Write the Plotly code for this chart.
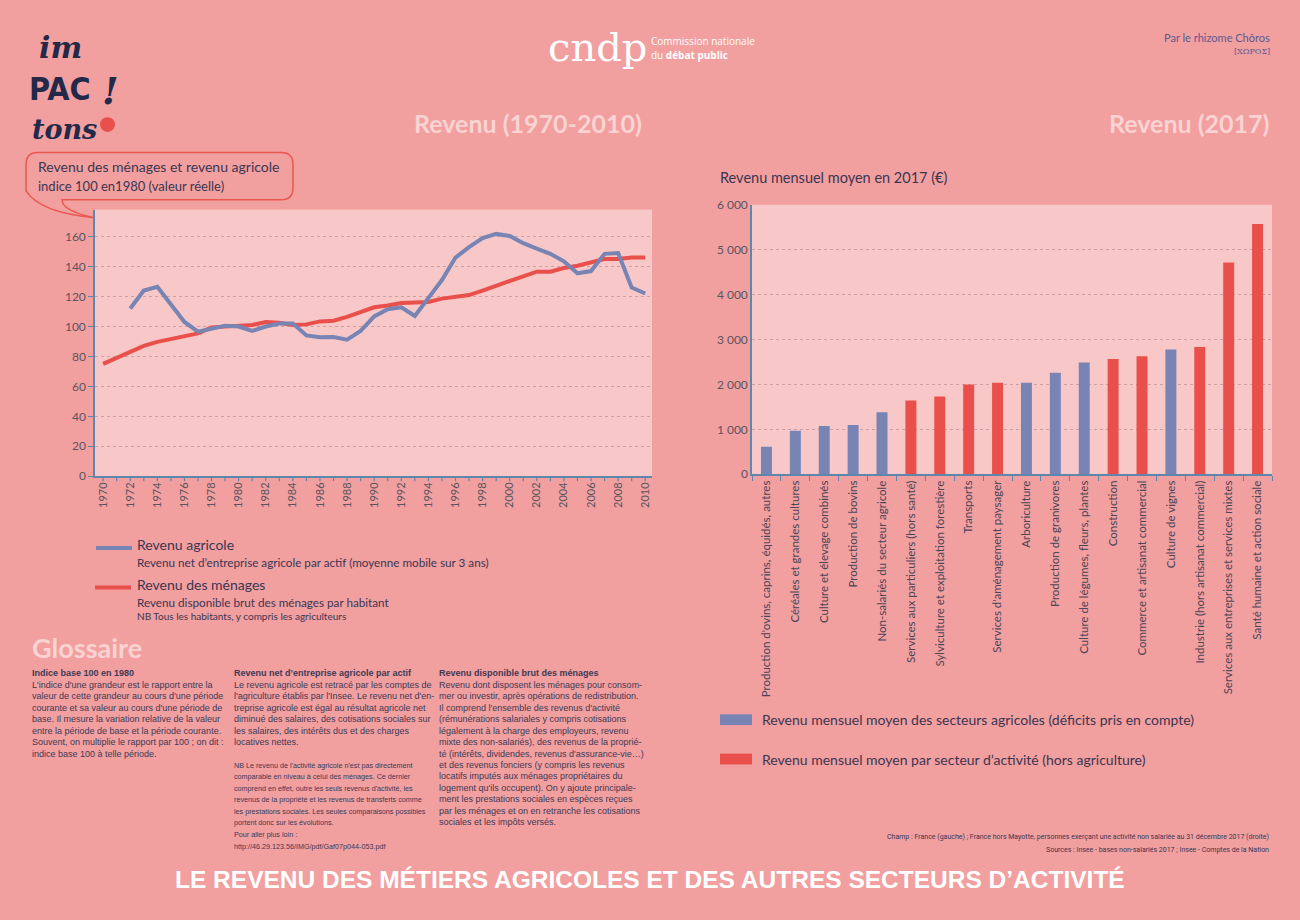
import plotly.graph_objects as go

W, H = 1300, 920

# ---------------- DATA ----------------
years = list(range(1970, 2011))
revenu_agricole = [None, None, 112, 124, 126.5, 115, 103, 96.5, 98.7, 100.5, 100,
                   97, 100, 102, 102, 94, 92.8, 93, 91.2, 97, 106.7,
                   111.5, 112.8, 107, 119, 131, 146, 153, 159, 161.8, 160.4,
                   155.6, 152, 148.5, 143.5, 135.5, 137, 148.5, 149, 126, 122]
revenu_menages = [75, 79, 83, 87, 89.7, 91.5, 93, 95.4, 99.4, 100, 100,
                  101, 103, 102.5, 101, 101.4, 103.4, 103.8, 106.4, 109.7, 112.8,
                  114, 115.7, 116, 116.4, 118.6, 119.6, 121, 124, 127, 130,
                  133, 136.6, 136.6, 139, 140.6, 142.8, 145, 145, 146, 146]
left_ytick_vals = [0, 20, 40, 60, 80, 100, 120, 140, 160]
left_xtick_labels = [str(y) for y in range(1970, 2011, 2)]

secteurs = ["Production d'ovins, caprins, équidés, autres",
            "Céréales et grandes cultures",
            "Culture et élevage combinés",
            "Production de bovins",
            "Non-salariés du secteur agricole",
            "Services aux particuliers (hors santé)",
            "Sylviculture et exploitation forestière",
            "Transports",
            "Services d'aménagement paysager",
            "Arboriculture",
            "Production de granivores",
            "Culture de légumes, fleurs, plantes",
            "Construction",
            "Commerce et artisanat commercial",
            "Culture de vignes",
            "Industrie (hors artisanat commercial)",
            "Services aux entreprises et services mixtes",
            "Santé humaine et action sociale"]
revenu_mensuel = [610, 970, 1075, 1095, 1380, 1640, 1730, 2000, 2040, 2040,
                  2260, 2490, 2565, 2625, 2780, 2835, 4715, 5570]
agricole_flag = [1, 1, 1, 1, 1, 0, 0, 0, 0, 1, 1, 1, 0, 0, 1, 0, 0, 0]
right_ytick_vals = [0, 1000, 2000, 3000, 4000, 5000, 6000]
right_ytick_text = ["0", "1 000", "2 000", "3 000", "4 000", "5 000", "6 000"]

# ---------------- STYLE ----------------
BG = "#f29f9f"
PLOT_BG = "#f8c8c8"
BLUE = "#7884b4"
RED = "#e9504b"
TXT = "#3b3652"
AXIS = "#5f86ad"
LIGHT = "#fad3d3"
GRID = "rgba(150,110,115,0.45)"
FONT = "Lato, 'Open Sans', sans-serif"
ARIAL = "'Liberation Sans', Arial, sans-serif"


def px(x):
    return x / W


def py(y):
    return 1 - y / H


fig = go.Figure()

fig.add_trace(go.Scatter(x=years, y=revenu_menages, mode="lines",
                         line=dict(color=RED, width=4), xaxis="x", yaxis="y",
                         showlegend=False, connectgaps=False))
fig.add_trace(go.Scatter(x=years, y=revenu_agricole, mode="lines",
                         line=dict(color=BLUE, width=4), xaxis="x", yaxis="y",
                         showlegend=False, connectgaps=False))

bar_colors = [BLUE if f else RED for f in agricole_flag]
fig.add_trace(go.Bar(x=secteurs, y=revenu_mensuel, marker=dict(color=bar_colors, line=dict(width=0)),
                     width=0.38, xaxis="x2", yaxis="y2", showlegend=False))

fig.update_layout(
    width=W, height=H,
    margin=dict(l=0, r=0, t=0, b=0),
    paper_bgcolor=BG,
    plot_bgcolor=PLOT_BG,
    font=dict(family=FONT, color=TXT),
    xaxis=dict(domain=[px(95), px(652)], range=[1969.4, 2010.5],
               tickmode="array", tickvals=list(range(1970, 2011, 2)), ticktext=left_xtick_labels,
               tickangle=-90, tickfont=dict(size=11, color="#5a5560"),
               showgrid=False, zeroline=False, showline=True, linecolor=AXIS, linewidth=1.5,
               ticks="", anchor="y"),
    yaxis=dict(domain=[py(476), py(205)], range=[0, 178],
               tickvals=left_ytick_vals, tickfont=dict(size=12, color="#5a5560"),
               showgrid=True, gridcolor=GRID, griddash="dot", gridwidth=1,
               zeroline=False, showline=True, linecolor=AXIS, linewidth=1.5,
               ticks="outside", ticklen=5, tickcolor=AXIS, anchor="x"),
    xaxis2=dict(domain=[px(752), px(1272)], range=[-0.5, 17.5],
                tickangle=-90, tickfont=dict(size=11.5, color="#4a4558"),
                showgrid=False, zeroline=False, showline=True, linecolor=AXIS, linewidth=1.5,
                ticks="outside", tickson="boundaries", ticklen=5, tickcolor=AXIS, anchor="y2"),
    yaxis2=dict(domain=[py(474), py(200)], range=[0, 6000],
                tickvals=right_ytick_vals, ticktext=right_ytick_text,
                tickfont=dict(size=12, color="#5a5560"),
                showgrid=True, gridcolor=GRID, griddash="dot", gridwidth=1,
                zeroline=False, showline=True, linecolor=AXIS, linewidth=1.5,
                ticks="", anchor="x2"),
)

shapes = []
# minor year ticks on the left x axis
for yr in years:
    shapes.append(dict(type="line", xref="x", yref="paper", x0=yr, x1=yr,
                       y0=py(476), y1=py(481), line=dict(color=AXIS, width=1.2)))


def path_from(cmds):
    out = []
    for c in cmds:
        if isinstance(c, str):
            out.append(c)
        else:
            out.append(f"{px(c[0]):.5f},{py(c[1]):.5f}")
    return " ".join(out)


# speech bubble
r = 12
x0, x1, y0, y1 = 26, 293, 147, 195
bubble = path_from(["M", (x0 + r, y0), "L", (x1 - r, y0), "Q", (x1, y0), (x1, y0 + r),
                    "L", (x1, y1 - r), "Q", (x1, y1), (x1 - r, y1),
                    "L", (62, y1), "Q", (62, 206), (93, 213),
                    "Q", (40, 208), (x0, 186),
                    "L", (x0, y0 + r), "Q", (x0, y0), (x0 + r, y0), "Z"])
shapes.append(dict(type="path", xref="paper", yref="paper", path=bubble,
                   fillcolor=BG, line=dict(color="#e8584f", width=1.5), layer="above"))

# legend swatches (left)
shapes.append(dict(type="line", xref="paper", yref="paper", x0=px(96), x1=px(132),
                   y0=py(549), y1=py(549), line=dict(color=BLUE, width=4)))
shapes.append(dict(type="line", xref="paper", yref="paper", x0=px(95), x1=px(131),
                   y0=py(589), y1=py(589), line=dict(color=RED, width=4)))
# legend swatches (right)
shapes.append(dict(type="rect", xref="paper", yref="paper", x0=px(720), x1=px(752),
                   y0=py(729), y1=py(718), fillcolor=BLUE, line=dict(width=0)))
shapes.append(dict(type="rect", xref="paper", yref="paper", x0=px(720), x1=px(752),
                   y0=py(769), y1=py(758), fillcolor=RED, line=dict(width=0)))
# logo red dot
shapes.append(dict(type="circle", xref="paper", yref="paper", x0=px(100), x1=px(115),
                   y0=py(126), y1=py(111), fillcolor=RED, line=dict(width=0)))

fig.update_layout(shapes=shapes)

ann = []


def text(x, y, t, size, color=TXT, xanchor="left", yanchor="middle", family=FONT, **kw):
    ann.append(dict(x=px(x), y=py(y), xref="paper", yref="paper", text=t, showarrow=False,
                    xanchor=xanchor, yanchor=yanchor, align=xanchor if xanchor != "center" else "center",
                    font=dict(size=size, color=color, family=family), **kw))


# logo
NAVY = "#24294a"
text(60, 40, "<b><i>im</i></b>", 30, color=NAVY, xanchor="center", family="'DejaVu Serif', serif")
text(60, 82, "<b>PAC</b>", 32, color=NAVY, xanchor="center",
     family="'DejaVu Sans Condensed', 'Liberation Sans Narrow', 'DejaVu Sans', sans-serif")
text(64, 124, "<b><i>tons</i></b>", 27, color=NAVY, xanchor="center", family="'DejaVu Serif', serif")
text(110, 84, "<b><i>!</i></b>", 38, color=NAVY, xanchor="center", family="'DejaVu Serif', serif")

# cndp
text(597, 40, "cndp", 40, color="white", xanchor="center", family="'DejaVu Serif', 'Liberation Serif', serif")
text(649, 34, "Commission nationale", 10, color="white", family="'Open Sans', sans-serif")
text(649, 48, "du <b>débat public</b>", 10, color="white", family="'Open Sans', sans-serif")

# top right credit
text(1272, 30, "Par le rhizome Chôros", 11, color="#5b5a92", xanchor="right")
text(1272, 44, "[ΧΩΡΟΣ]", 8, color="#5b5a92", xanchor="right", family="'DejaVu Serif', serif")

# section titles
text(528, 117, "<b>Revenu (1970-2010)</b>", 25, color=LIGHT, xanchor="center")
text(1271, 117, "<b>Revenu (2017)</b>", 25, color=LIGHT, xanchor="right")

# bubble text
text(36, 161, "Revenu des ménages et revenu agricole", 14)
text(36, 181, "indice 100 en1980 (valeur réelle)", 13)

# right axis title
text(718, 172, "Revenu mensuel moyen en 2017 (€)", 14.5)

# left legend
text(135, 545, "Revenu agricole", 14)
text(135, 563, "Revenu net d’entreprise agricole par actif (moyenne mobile sur 3 ans)", 11.7)
text(135, 586, "Revenu des ménages", 14)
text(135, 604, "Revenu disponible brut des ménages par habitant", 11.7)
text(135, 618, "NB Tous les habitants, y compris les agriculteurs", 10)

# right legend
text(760, 723, "Revenu mensuel moyen des secteurs agricoles (déficits pris en compte)", 14)
text(760, 764, "Revenu mensuel moyen par secteur d’activité (hors agriculture)", 14)

# footnotes
text(1271, 843, "Champ : France (gauche) ; France hors Mayotte, personnes exerçant une activité non salariée au 31 décembre 2017 (droite)",
     7, xanchor="right", family="Roboto, sans-serif")
text(1271, 856, "Sources : Insee - bases non-salariés 2017 ; Insee - Comptes de la Nation",
     7, xanchor="right", family="Roboto, sans-serif")

# Glossaire
text(30, 650, "<b>Glossaire</b>", 27, color=LIGHT)

col1 = ["L'indice d'une grandeur est le rapport entre la",
        "valeur de cette grandeur au cours d'une période",
        "courante et sa valeur au cours d'une période de",
        "base. Il mesure la variation relative de la valeur",
        "entre la période de base et la période courante.",
        "Souvent, on multiplie le rapport par 100 ; on dit :",
        "indice base 100 à telle période."]
col2 = ["Le revenu agricole est retracé par les comptes de",
        "l'agriculture établis par l'Insee. Le revenu net d'en-",
        "treprise agricole est égal au résultat agricole net",
        "diminué des salaires, des cotisations sociales sur",
        "les salaires, des intérêts dus et des charges",
        "locatives nettes."]
col2nb = ["NB Le revenu de l'activité agricole n'est pas directement",
          "comparable en niveau à celui des ménages. Ce dernier",
          "comprend en effet, outre les seuls revenus d'activité, les",
          "revenus de la propriété et les revenus de transferts comme",
          "les prestations sociales. Les seules comparaisons possibles",
          "portent donc sur les évolutions.",
          "Pour aller plus loin :",
          "http://46.29.123.56/IMG/pdf/Gaf07p044-053.pdf"]
col3 = ["Revenu dont disposent les ménages pour consom-",
        "mer ou investir, après opérations de redistribution.",
        "Il comprend l'ensemble des revenus d'activité",
        "(rémunérations salariales y compris cotisations",
        "légalement à la charge des employeurs, revenu",
        "mixte des non-salariés), des revenus de la proprié-",
        "té (intérêts, dividendes, revenus d'assurance-vie…)",
        "et des revenus fonciers (y compris les revenus",
        "locatifs imputés aux ménages propriétaires du",
        "logement qu'ils occupent). On y ajoute principale-",
        "ment les prestations sociales en espèces reçues",
        "par les ménages et on en retranche les cotisations",
        "sociales et les impôts versés."]

GT = "#3d3a55"
text(30, 676, "<b>Indice base 100 en 1980</b>", 9, color=GT, family=ARIAL)
for i, line in enumerate(col1):
    text(30, 688 + i * 11.7, line, 9, color=GT, family=ARIAL)
text(232, 676, "<b>Revenu net d’entreprise agricole par actif</b>", 9, color=GT, family=ARIAL)
for i, line in enumerate(col2):
    text(232, 688 + i * 11.7, line, 9, color=GT, family=ARIAL)
for i, line in enumerate(col2nb):
    text(232, 770 + i * 11.7, line, 7.2, color=GT, family=ARIAL)
text(437, 676, "<b>Revenu disponible brut des ménages</b>", 9, color=GT, family=ARIAL)
for i, line in enumerate(col3):
    text(437, 688 + i * 11.65, line, 9, color=GT, family=ARIAL)

# bottom banner title
text(650, 886, "<b>LE REVENU DES MÉTIERS AGRICOLES ET DES AUTRES SECTEURS D’ACTIVITÉ</b>", 24.5,
     color="white", xanchor="center", family=ARIAL)

fig.update_layout(annotations=ann)

fig.write_html("out.html", config={"displayModeBar": False},
               post_script="document.body.style.margin='0';document.body.style.overflow='hidden';")
